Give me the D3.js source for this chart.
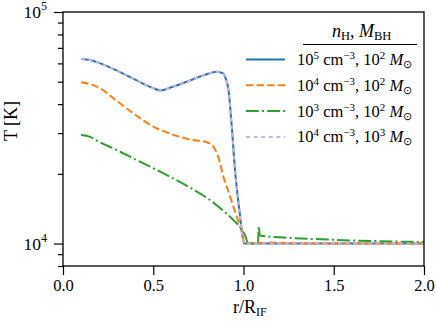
<!DOCTYPE html>
<html>
<head>
<meta charset="utf-8">
<script src="https://cdn.jsdelivr.net/npm/d3@7"></script>
<style>
body { margin: 0; background: #fff; }
svg text { font-family: "Liberation Serif", "Times New Roman", serif; fill: #000; }
</style>
</head>
<body>
<svg id="chart" width="436" height="323"></svg>
<script>
// values
const rBlue = [0.1, 0.15, 0.2, 0.3, 0.4, 0.5, 0.54, 0.6, 0.7, 0.8, 0.85, 0.888, 0.901, 0.916, 0.935, 0.953, 0.977, 1.005, 1.1, 1.5, 2.0];
const tBlue = [62600, 62000, 60300, 55800, 51000, 46900, 45800, 47300, 50500, 54000, 55200, 54300, 51700, 46500, 32000, 20800, 13960, 10000, 10000, 10000, 10000];

const rOrange = [0.1, 0.2, 0.3, 0.4, 0.5, 0.6, 0.7, 0.8, 0.833, 0.86, 0.89, 0.92, 0.944, 0.97, 0.99, 1.008, 1.1, 1.15, 1.3, 1.5, 2.0];
const tOrange = [49700, 47100, 41200, 36000, 32000, 29700, 28200, 27300, 26200, 23700, 19300, 16500, 14430, 12600, 11300, 10000, 10050, 10100, 10020, 10000, 10000];

const rGreen = [0.1, 0.15, 0.2, 0.3, 0.4, 0.5, 0.6, 0.7, 0.8, 0.9, 0.95, 0.98, 1.008, 1.027, 1.05, 1.08, 1.085, 1.09, 1.1, 1.2, 1.5, 2.0];
const tGreen = [29400, 28900, 27500, 25300, 23100, 21150, 19300, 17500, 15700, 13600, 12500, 11800, 10890, 10000, 10000, 10000, 11900, 10850, 10800, 10650, 10380, 10150];

const rPurple = rBlue.slice();
const tPurple = [62600, 62000, 60300, 55800, 51000, 46900, 45800, 47300, 50500, 54000, 55200, 54300, 51700, 46500, 32000, 20800, 13960, 10000, 10000, 10000, 10000];

const nH = ["5", "4", "3", "4"];
const mBH = ["2", "2", "2", "3"];
const xTicks = [0, 0.5, 1.0, 1.5, 2.0];
const yMajor = [1e4, 1e5];
const yMinor = [8000, 9000, 20000, 30000, 40000, 50000, 60000, 70000, 80000, 90000];

const svg = d3.select("#chart");
const mLeft = 63, mRight = 424, mTop = 12, mBottom = 266;

const x = d3.scaleLinear().domain([0, 2]).range([mLeft, mRight]);
const y = d3.scaleLog().domain([8000, 1e5]).range([mBottom, mTop]);

const series = [
    {r: rBlue, t: tBlue, color: "#1f77b4", dash: null},
    {r: rOrange, t: tOrange, color: "#ff7f0e", dash: "7.4,3.2"},
    {r: rGreen, t: tGreen, color: "#2ca02c", dash: "12.8,3.2,2,3.2"},
    {r: rPurple, t: tPurple, color: "#c9b3de", dash: "4,3.6"}
];

const line = d3.line()
    .x(d => x(d[0]))
    .y(d => y(d[1]))
    .curve(d3.curveMonotoneX);

const plot = svg.append("g");
series.forEach(s => {
    plot.append("path")
        .datum(s.r.map((r, i) => [r, s.t[i]]))
        .attr("d", line)
        .style("fill", "none")
        .style("stroke", s.color)
        .style("stroke-width", 2)
        .style("stroke-dasharray", s.dash);
});

// axes
const xAxis = svg.append("g")
    .attr("transform", "translate(0," + mBottom + ")")
    .call(d3.axisBottom(x).tickValues(xTicks).tickFormat(d3.format(".1f")).tickSize(9).tickPadding(4));
xAxis.selectAll("text").style("font-size", "16.5px");

svg.append("g")
    .attr("transform", "translate(" + mLeft + ",0)")
    .call(d3.axisLeft(y).tickValues(yMinor).tickFormat("").tickSize(5));
svg.append("g")
    .attr("transform", "translate(" + mLeft + ",0)")
    .call(d3.axisLeft(y).tickValues(yMajor).tickFormat("").tickSize(9));
svg.selectAll(".domain").remove();
svg.selectAll(".tick line").style("stroke", "#000").style("stroke-width", 1.2);

yMajor.forEach(v => {
    const t = svg.append("text")
        .attr("x", 47)
        .attr("y", y(v) + 6)
        .attr("text-anchor", "end")
        .style("font-size", "17.5px");
    t.append("tspan").text("10");
    t.append("tspan").attr("dy", -8).style("font-size", "12px").text(Math.log10(v));
});

svg.append("rect")
    .attr("x", mLeft).attr("y", mTop)
    .attr("width", mRight - mLeft).attr("height", mBottom - mTop)
    .style("fill", "none").style("stroke", "#000").style("stroke-width", 1.3);

// axis labels
svg.append("text")
    .attr("transform", "translate(17,121) rotate(-90)")
    .attr("text-anchor", "middle")
    .style("font-size", "18px")
    .text("T [K]");

const xl = svg.append("text")
    .attr("x", 233).attr("y", 313)
    .style("font-size", "18px");
xl.append("tspan").text("r/R");
xl.append("tspan").attr("dy", 3).style("font-size", "12px").text("IF");

// legend
const title = svg.append("text").attr("x", 332).attr("y", 37).style("font-size", "18px");
title.append("tspan").style("font-style", "italic").text("n");
title.append("tspan").attr("dy", 3).style("font-size", "12.5px").text("H");
title.append("tspan").attr("dy", -3).text(", ");
title.append("tspan").style("font-style", "italic").text("M");
title.append("tspan").attr("dy", 3).style("font-size", "12.5px").text("BH");

svg.append("line")
    .attr("x1", 303).attr("x2", 417).attr("y1", 44.5).attr("y2", 44.5)
    .style("stroke", "#000").style("stroke-width", 1);

series.forEach((s, i) => {
    const ly = 59.5 + i * 25.8;
    svg.append("line")
        .attr("x1", 246).attr("x2", 285).attr("y1", ly).attr("y2", ly)
        .style("stroke", s.color).style("stroke-width", 2)
        .style("stroke-dasharray", s.dash);
    const t = svg.append("text").attr("x", 297).attr("y", ly + 5.5).style("font-size", "16.5px");
    t.append("tspan").text("10");
    t.append("tspan").attr("dy", -6).style("font-size", "11px").text(nH[i]);
    t.append("tspan").attr("dy", 6).text(" cm");
    t.append("tspan").attr("dy", -6).style("font-size", "11px").text("\u22123");
    t.append("tspan").attr("dy", 6).text(", 10");
    t.append("tspan").attr("dy", -6).style("font-size", "11px").text(mBH[i]);
    t.append("tspan").attr("dy", 6).text(" ");
    t.append("tspan").style("font-style", "italic").text("M");
    t.append("tspan").attr("dy", 3).style("font-size", "11px").text("\u2299");
});
</script>
</body>
</html>
